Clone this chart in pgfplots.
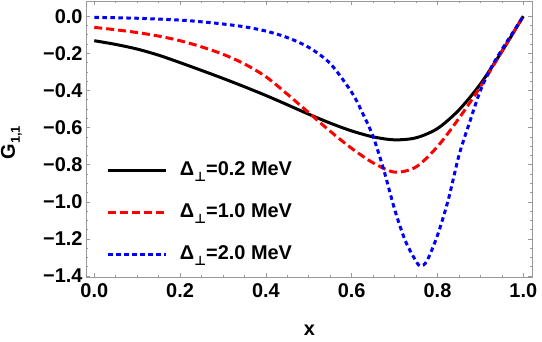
\documentclass[border=0pt]{standalone}
\usepackage{fontspec}
\setmainfont{Liberation Sans}
\newfontfamily\dejavu{DejaVu Sans}
\usepackage{pgfplots}
\pgfplotsset{compat=1.18}
\definecolor{framegray}{gray}{0.6}
\newcommand{\dperp}{Δ\raisebox{-0.28em}{\fontsize{13}{13}\selectfont\dejavu\bfseries ⊥}}
\begin{document}
\begin{tikzpicture}
\useasboundingbox (-86bp,-65bp) rectangle (456bp,277bp);
\begin{axis}[
  scale only axis, width=446.7bp, height=276bp,
  xmin=-0.0193, xmax=1.0219, ymin=-1.405, ymax=0.082,
  axis line style={framegray, line width=0.8bp},
  tick style={framegray, line width=0.6bp},
  tick align=inside,
  major tick length=4.5bp, minor tick length=2.5bp,
  xtick={0,0.2,0.4,0.6,0.8,1.0},
  xticklabels={0.0,0.2,0.4,0.6,0.8,1.0},
  ytick={-1.4,-1.2,-1.0,-0.8,-0.6,-0.4,-0.2,0},
  yticklabels={−1.4,−1.2,−1.0,−0.8,−0.6,−0.4,−0.2,0.0},
  minor tick num=3,
  ticklabel style={font=\fontsize{20}{24}\selectfont\bfseries, text=black},
  xticklabel style={yshift=-3.5bp},
  xlabel={\fontsize{20}{24}\selectfont\bfseries x},
  xlabel style={at={(axis description cs:0.5,-0.192)}, anchor=center},
  ylabel={\fontsize{20}{24}\selectfont\bfseries G\raisebox{-0.25em}{\fontsize{13}{13}\selectfont 1,1}},
  ylabel style={at={(axis description cs:-0.167,0.487)}, anchor=center},
  legend style={at={(rel axis cs:0.047,0.418)}, anchor=north west, draw=none, fill=none,
    inner sep=0pt, outer sep=0pt, row sep=24bp, column sep=12bp,
    font=\fontsize{20}{24}\selectfont\bfseries,
    nodes={inner sep=0pt, text height=14bp, text depth=4bp}},
  legend cell align=left,
  legend image code/.code={\draw[#1] (0bp,0bp) -- (58bp,0bp);},
]
\addplot[black, line width=3bp, smooth] coordinates {
(0,-0.132) (0.05,-0.152) (0.1,-0.177) (0.15,-0.210) (0.2,-0.250) (0.25,-0.292)
(0.3,-0.335) (0.35,-0.380) (0.4,-0.427) (0.45,-0.477) (0.5,-0.528) (0.55,-0.576)
(0.6,-0.618) (0.65,-0.650) (0.7,-0.666) (0.75,-0.655) (0.8,-0.605) (0.85,-0.505)
(0.9,-0.365) (0.95,-0.190) (1.0,0)};
\addlegendentry{\dperp=0.2 MeV}
\addplot[red, line width=3bp, dash pattern=on 8bp off 4bp, smooth] coordinates {
(0,-0.060) (0.05,-0.073) (0.1,-0.088) (0.15,-0.107) (0.2,-0.132) (0.25,-0.165)
(0.3,-0.205) (0.35,-0.257) (0.4,-0.326) (0.45,-0.420) (0.5,-0.520) (0.55,-0.620)
(0.6,-0.712) (0.65,-0.790) (0.7,-0.840) (0.75,-0.812) (0.8,-0.702) (0.85,-0.550)
(0.9,-0.380) (0.95,-0.190) (1.0,0)};
\addlegendentry{\dperp=1.0 MeV}
\addplot[blue, line width=3bp, dash pattern=on 4.5bp off 3.5bp, smooth] coordinates {
(0,-0.006) (0.1,-0.011) (0.2,-0.021) (0.25,-0.030) (0.3,-0.042) (0.35,-0.057)
(0.4,-0.080) (0.45,-0.115) (0.5,-0.168) (0.55,-0.255) (0.6,-0.410) (0.625,-0.520)
(0.65,-0.649) (0.675,-0.830) (0.7,-1.040) (0.725,-1.210) (0.75,-1.320) (0.76,-1.345)
(0.775,-1.320) (0.8,-1.180) (0.825,-0.990) (0.85,-0.750) (0.875,-0.570) (0.9,-0.400)
(0.925,-0.277) (0.95,-0.180) (0.975,-0.090) (1.0,0)};
\addlegendentry{\dperp=2.0 MeV}
\end{axis}
\end{tikzpicture}
\end{document}
